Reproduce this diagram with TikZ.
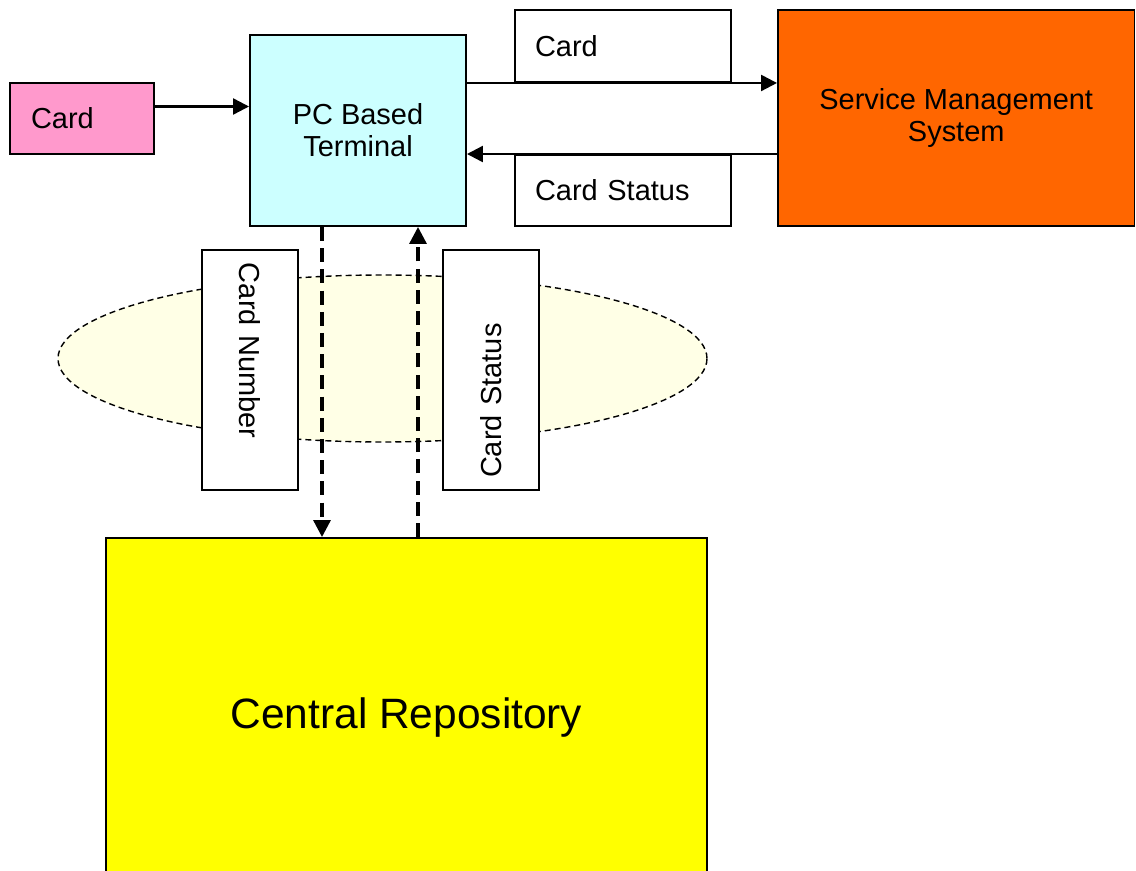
\documentclass[tikz,border=0pt]{standalone}
\usepackage{fontspec}
\setmainfont{Liberation Sans}
\usetikzlibrary{shapes.geometric,arrows.meta}

\definecolor{cardpink}{HTML}{FF99CC}
\definecolor{termcyan}{HTML}{CCFFFF}
\definecolor{smsorange}{HTML}{FF6600}
\definecolor{repoyellow}{HTML}{FFFF00}
\definecolor{netyellow}{HTML}{FFFFE6}

\begin{document}
\begin{tikzpicture}
    % Define the styles for the boxes and arrows
    \tikzstyle{block}=[rectangle, draw=black, line width=1.4pt, font=\fontsize{20.6}{22.8}\selectfont, inner sep=0pt]
    \tikzstyle{label}=[block, fill=white, align=left]
    \tikzstyle{arrow}=[line width=1.7pt, -{Triangle[length=0.4cm,width=0.4cm]}]
    \tikzstyle{dasharrow}=[line width=2.3pt, dash pattern=on 0.35cm off 0.18cm, -{Triangle[length=0.42cm,width=0.42cm]}]

    \useasboundingbox (0,0) rectangle (28.4,-21.775);
    \clip (0,0) rectangle (28.4,-21.775);

    % Draw the network area
    \node[ellipse, draw=black, line width=1pt, dash pattern=on 0.15cm off 0.1cm, fill=netyellow, minimum width=16.225cm, minimum height=4.175cm] (network) at (9.5625, -8.9625) {};

    % Draw the main blocks
    \node[block, fill=cardpink, text width=2.55cm, inner xsep=0.525cm, minimum height=1.775cm, align=left] (card) at (2.05, -2.9625) {Card};
    \node[block, fill=termcyan, minimum width=5.4cm, minimum height=4.775cm, align=center] (terminal) at (8.95, -3.2625) {PC Based\\Terminal};
    \node[block, fill=smsorange, minimum width=8.9125cm, minimum height=5.4cm, align=center] (sms) at (23.906, -2.95) {Service Management\\System};
    \node[block, fill=repoyellow, minimum width=15.025cm, minimum height=9cm, font=\fontsize{30.2}{34}\selectfont] (repo) at (10.1625, -17.95) {Central Repository};

    % Draw the message labels
    \node[label, text width=4.4cm, inner xsep=0.5cm, minimum height=1.8cm] (cardmsg) at (15.575, -1.15) {Card};
    \node[label, text width=4.4cm, inner xsep=0.5cm, minimum height=1.775cm] (statusmsg) at (15.575, -4.7625) {Card Status};
    \node[label, rotate=-90, text width=5.35cm, inner xsep=0.325cm, minimum height=2.4cm] (numbermsg) at (6.25, -9.25) {Card Number};
    \node[label, rotate=90, text width=5.4cm, inner xsep=0.3cm, minimum height=2.4cm] (repostatus) at (12.275, -9.25) {Card Status};

    % Draw the arrows between the blocks
    \draw[arrow] ([yshift=0.3cm]card.east) -- ([yshift=0.3cm]card.east -| terminal.west);
    \draw[arrow] (terminal.east |- cardmsg.south) -- (sms.west |- cardmsg.south);
    \draw[arrow] (sms.west |- statusmsg.north) -- (terminal.east |- statusmsg.north);

    \coordinate (down) at (8.05, -5.65);
    \coordinate (up) at (10.45, -5.65);
    \draw[dasharrow] (terminal.south -| down) -- (repo.north -| down);
    \draw[dasharrow] (repo.north -| up) -- (terminal.south -| up);
\end{tikzpicture}
\end{document}
